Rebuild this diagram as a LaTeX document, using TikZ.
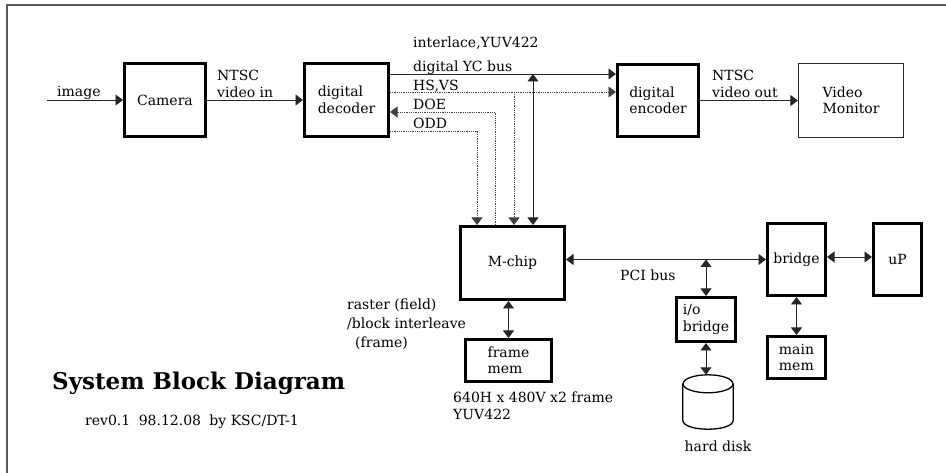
\documentclass[tikz,border=0pt]{standalone}
\usepackage{fontspec}
\setmainfont{DejaVu Serif}
\usetikzlibrary{arrows.meta,calc}
\newcommand\dfont{\fontsize{14}{16.5}\selectfont}
\begin{document}
\begin{tikzpicture}[x=1pt,y=-1pt,
  >={Triangle[length=7.5pt,width=11pt]},
  blk/.style={draw=black,line width=3pt,align=left,inner sep=0pt,font=\dfont},
  thinblk/.style={draw=black!85,line width=1.2pt,align=left,inner sep=0pt,font=\dfont},
  txt/.style={inner sep=0pt,align=left,font=\dfont},
  conn/.style={draw=black!85,line width=0.9pt},
  dotconn/.style={draw=black!75,line width=0.8pt,densely dotted},
  frameline/.style={draw=black!65,line width=1.6pt}
]
\useasboundingbox (0,0) rectangle (946,473);

% sheet border
\draw[frameline] (7,473) -- (7,5) -- (946,5);

% blocks
\node[blk,minimum width=81pt,minimum height=73pt] (camera) at (165,100) {Camera};
\node[blk,minimum width=84pt,minimum height=73pt] (decoder) at (346.5,100) {digital\\decoder};
\node[blk,minimum width=81pt,minimum height=72pt] (encoder) at (658,100.5) {digital\\encoder};
\node[thinblk,minimum width=105pt,minimum height=74pt] (monitor) at (851,100.5) {Video\\Monitor};
\node[blk,minimum width=104pt,minimum height=73pt] (mchip) at (512.5,263) {M-chip};
\node[blk,minimum width=86pt,minimum height=42pt] (framemem) at (508.5,360.5) {frame\\mem};
\node[blk,minimum width=59pt,minimum height=44pt] (iobridge) at (706,319.5) {i/o\\bridge};
\node[blk,minimum width=58pt,minimum height=72pt] (bridge) at (796.5,259.5) {bridge};
\node[blk,minimum width=48pt,minimum height=72pt] (up) at (897.5,259.5) {uP};
\node[blk,minimum width=58pt,minimum height=42pt] (mainmem) at (796.5,357.5) {main\\mem};

% hard disk cylinder
\node[minimum width=50pt,minimum height=54pt,inner sep=0pt] (disk) at (708,402) {};
\draw[line width=1.3pt] ($(disk.north)+(0,9)$) ellipse [x radius=25,y radius=9];
\draw[line width=1.3pt] ($(disk.north west)+(0,9)$) -- ($(disk.south west)+(0,-9)$)
  .. controls ($(disk.south west)+(0,3)$) and ($(disk.south east)+(0,3)$) .. ($(disk.south east)+(0,-9)$)
  -- ($(disk.north east)+(0,9)$);
\node[txt] (disklbl) at (718,446) {hard disk};

% video path
\coordinate (imgsrc) at (47,100);
\draw[conn,->] (imgsrc) -- (camera.west);
\node[txt,anchor=base west] (imglbl) at (57,97) {image};
\draw[conn,->] (camera.east) -- (decoder.west);
\node[txt,anchor=west] (ntscin) at (217,84) {NTSC\\video in};
\draw[conn,->] (encoder.east) -- (monitor.west);
\node[txt,anchor=west] (ntscout) at (712,84) {NTSC\\video out};

% decoder / encoder / M-chip buses
\coordinate (yc) at (0,74);
\coordinate (hs) at (0,92);
\coordinate (doe) at (0,112);
\coordinate (odd) at (0,131);
\coordinate (xodd) at (477,0);
\coordinate (xdoe) at (495,0);
\coordinate (xhs) at (514,0);
\coordinate (xyc) at (533,0);

\draw[conn,->] (decoder.east |- yc) -- (encoder.west |- yc);
\draw[dotconn,->] (decoder.east |- hs) -- (encoder.west |- hs);
\draw[dotconn,->] (xhs |- hs) -- (xhs |- mchip.north);
\draw[dotconn,->] (xdoe |- mchip.north) -- (xdoe |- doe) -- (decoder.east |- doe);
\draw[dotconn,->] (decoder.east |- odd) -- (xodd |- odd) -- (xodd |- mchip.north);
\draw[conn,<->] (xyc |- yc) -- (xyc |- mchip.north);

\node[txt,anchor=west] (ilace) at (413,43) {interlace,YUV422};
\node[txt,anchor=base west] (yclbl) at (413,72) {digital YC bus};
\node[txt,anchor=base west] (hslbl) at (413,91) {HS,VS};
\node[txt,anchor=base west] (doelbl) at (413,110) {DOE};
\node[txt,anchor=base west] (oddlbl) at (413,129) {ODD};

% PCI side
\draw[conn,<->] (mchip.east |- bridge.west) -- (bridge.west);
\node[txt,anchor=west] (pcilbl) at (620,275) {PCI bus};
\draw[conn,<->] (iobridge.north |- bridge.west) -- (iobridge.north);
\draw[conn,<->] (iobridge.south) -- (iobridge.south |- disk.north);
\draw[conn,<->] (bridge.east |- 0,257) -- (up.west |- 0,257);
\draw[conn,<->] (bridge.south) -- (mainmem.north);

% frame memory
\draw[conn,<->] (framemem.north |- mchip.south) -- (framemem.north);
\node[txt,anchor=west,font=\fontsize{14}{19}\selectfont] (rasterlbl) at (347,324)
  {raster (field)\\/block interleave\\\hspace*{8pt}(frame)};
\node[txt,anchor=west] (memlbl) at (453,406) {640H x 480V x2 frame\\YUV422};

% title block
\node[inner sep=0pt,anchor=west,font=\fontsize{23}{27}\selectfont\bfseries] (title) at (52,383) {System Block Diagram};
\node[txt,anchor=west] (rev) at (85,422) {rev0.1\hspace{0.6em}98.12.08\hspace{0.6em}by KSC/DT-1};
\end{tikzpicture}
\end{document}
